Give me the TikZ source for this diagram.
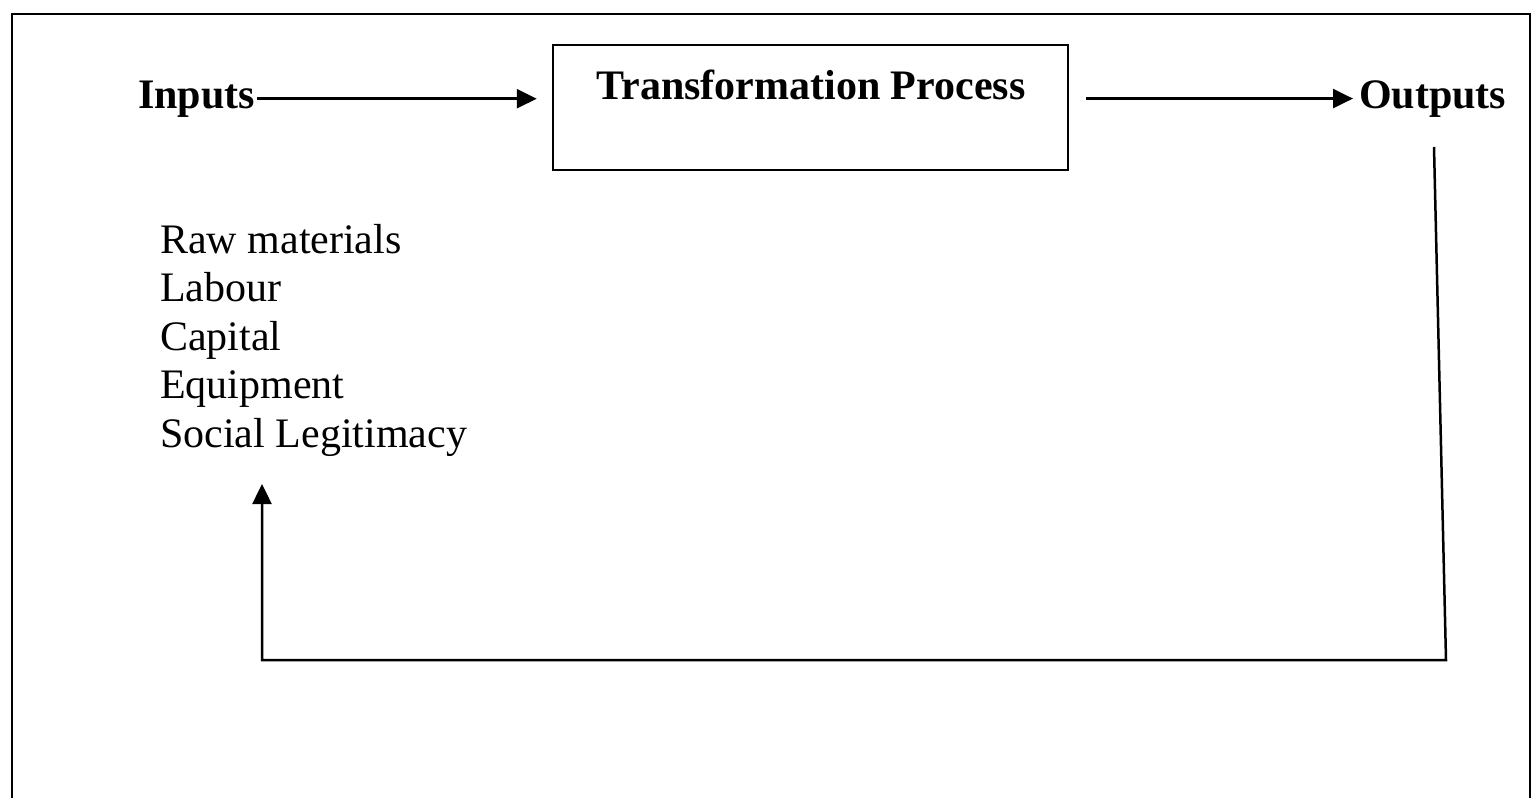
\documentclass[tikz,border=0pt]{standalone}
\usepackage{fontspec}
\setmainfont{Liberation Serif}
\usetikzlibrary{positioning,arrows.meta}

\tikzset{
    head/.style={font=\fontsize{42}{48}\selectfont\bfseries, inner sep=0pt},
    listitem/.style={font=\fontsize{42}{48}\selectfont, inner sep=0pt, anchor=base west},
    procbox/.style={draw, line width=2.5pt, minimum width=515pt, minimum height=125pt, inner sep=0pt},
    arr/.style={line width=2.5pt, -{Triangle[length=20pt,width=19pt]}}
}

\begin{document}
\begin{tikzpicture}[x=1pt,y=-1pt]
    \useasboundingbox (0,0) rectangle (1535,798);
    % outer frame, open at the bottom
    \draw[line width=2pt] (12,798) -- (12,14) -- (1530,14) -- (1530,798);

    \node[head, anchor=base west] (inputs) at (138,108) {Inputs};
    \node[procbox] (box) at (810.5,107.5) {};
    \node[head, anchor=base] (title) at (811,99) {Transformation Process};
    \node[head, anchor=base west] (outputs) at (1359,108) {Outputs};

    \foreach \item [count=\i] in {Raw materials, Labour, Capital, Equipment, Social Legitimacy}{
        \node[listitem] (item\i) at (160,{253+48.5*(\i-1)}) {\item};
    }

    \draw[arr] ([xshift=2pt]inputs.east) -- ([xshift=-15pt]inputs.east -| box.west);
    \draw[arr] ([xshift=17pt]box.east |- outputs.west) -- ([xshift=-6pt]outputs.west);

    % feedback loop
    \coordinate (fbtop) at (1434,147);
    \coordinate (fbcorner) at (1446,660);
    \coordinate (fbend) at (262,484);
    \draw[arr] (fbtop) -- (fbcorner) -| (fbend);
\end{tikzpicture}
\end{document}
